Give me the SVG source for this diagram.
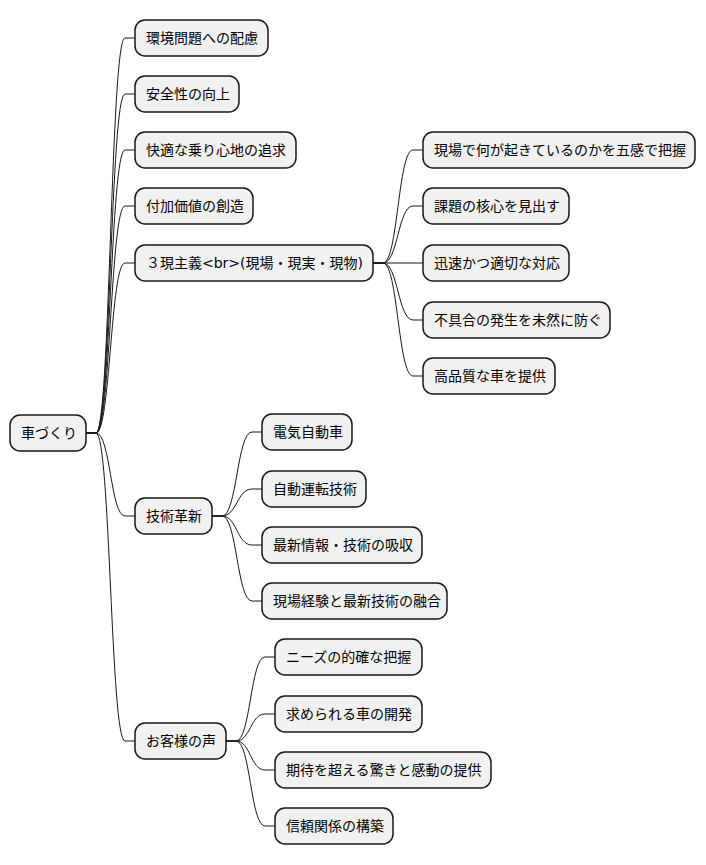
<svg xmlns="http://www.w3.org/2000/svg" width="706" height="865" viewBox="0 0 706 865">
<style>
.n rect{fill:#F1F1F1;stroke:#181818;stroke-width:1.5}
.n text{font-family:"DejaVu Sans","Noto Sans CJK JP",sans-serif;font-size:14px;fill:#000}
.c path{fill:none;stroke:#181818;stroke-width:1}
</style>
<rect width="706" height="865" fill="#FFFFFF"/>
<g class="c">
<path d="M86,433 L96,433 C110.5,433 110.5,38 125,38 L135,38"/>
<path d="M86,433 L96,433 C110.5,433 110.5,94 125,94 L135,94"/>
<path d="M86,433 L96,433 C110.5,433 110.5,150 125,150 L135,150"/>
<path d="M86,433 L96,433 C110.5,433 110.5,206 125,206 L135,206"/>
<path d="M86,433 L96,433 C110.5,433 110.5,263 125,263 L135,263"/>
<path d="M86,433 L96,433 C110.5,433 110.5,516 125,516 L135,516"/>
<path d="M86,433 L96,433 C110.5,433 110.5,741 125,741 L135,741"/>
<path d="M373,263 L383,263 C398,263 398,150 413,150 L423,150"/>
<path d="M373,263 L383,263 C398,263 398,206 413,206 L423,206"/>
<path d="M373,263 L423,263"/>
<path d="M373,263 L383,263 C398,263 398,320 413,320 L423,320"/>
<path d="M373,263 L383,263 C398,263 398,376 413,376 L423,376"/>
<path d="M212,516 L222,516 C237,516 237,432 252,432 L262,432"/>
<path d="M212,516 L222,516 C237,516 237,489 252,489 L262,489"/>
<path d="M212,516 L222,516 C237,516 237,545 252,545 L262,545"/>
<path d="M212,516 L222,516 C237,516 237,601 252,601 L262,601"/>
<path d="M226,741 L236,741 C250.5,741 250.5,657 265,657 L275,657"/>
<path d="M226,741 L236,741 C250.5,741 250.5,714 265,714 L275,714"/>
<path d="M226,741 L236,741 C250.5,741 250.5,770 265,770 L275,770"/>
<path d="M226,741 L236,741 C250.5,741 250.5,826 265,826 L275,826"/>
</g>
<g id="root" class="n"><rect x="10" y="415" width="76" height="36" rx="10"/><text x="21" y="438">車づくり</text></g>
<g id="n1" class="n"><rect x="135" y="20" width="133" height="36" rx="10"/><text x="146" y="43">環境問題への配慮</text></g>
<g id="n2" class="n"><rect x="135" y="76" width="104" height="36" rx="10"/><text x="146" y="99">安全性の向上</text></g>
<g id="n3" class="n"><rect x="135" y="132" width="161" height="36" rx="10"/><text x="146" y="155">快適な乗り心地の追求</text></g>
<g id="n4" class="n"><rect x="135" y="188" width="118" height="36" rx="10"/><text x="146" y="211">付加価値の創造</text></g>
<g id="n5" class="n"><rect x="135" y="245" width="238" height="36" rx="10"/><text x="146" y="268">３現主義&lt;br&gt;(現場・現実・現物)</text></g>
<g id="n5a" class="n"><rect x="423" y="132" width="272" height="36" rx="10"/><text x="434" y="155">現場で何が起きているのかを五感で把握</text></g>
<g id="n5b" class="n"><rect x="423" y="188" width="146" height="36" rx="10"/><text x="434" y="211">課題の核心を見出す</text></g>
<g id="n5c" class="n"><rect x="423" y="245" width="146" height="36" rx="10"/><text x="434" y="268">迅速かつ適切な対応</text></g>
<g id="n5d" class="n"><rect x="423" y="302" width="187" height="36" rx="10"/><text x="434" y="325">不具合の発生を未然に防ぐ</text></g>
<g id="n5e" class="n"><rect x="423" y="358" width="132" height="36" rx="10"/><text x="434" y="381">高品質な車を提供</text></g>
<g id="n6" class="n"><rect x="135" y="498" width="77" height="36" rx="10"/><text x="146" y="521">技術革新</text></g>
<g id="n6a" class="n"><rect x="262" y="414" width="90" height="36" rx="10"/><text x="273" y="437">電気自動車</text></g>
<g id="n6b" class="n"><rect x="262" y="471" width="104" height="36" rx="10"/><text x="273" y="494">自動運転技術</text></g>
<g id="n6c" class="n"><rect x="262" y="527" width="160" height="36" rx="10"/><text x="273" y="550">最新情報・技術の吸収</text></g>
<g id="n6d" class="n"><rect x="262" y="583" width="185" height="36" rx="10"/><text x="273" y="606">現場経験と最新技術の融合</text></g>
<g id="n7" class="n"><rect x="135" y="723" width="91" height="36" rx="10"/><text x="146" y="746">お客様の声</text></g>
<g id="n7a" class="n"><rect x="275" y="639" width="147" height="36" rx="10"/><text x="286" y="662">ニーズの的確な把握</text></g>
<g id="n7b" class="n"><rect x="275" y="696" width="147" height="36" rx="10"/><text x="286" y="719">求められる車の開発</text></g>
<g id="n7c" class="n"><rect x="275" y="752" width="216" height="36" rx="10"/><text x="286" y="775">期待を超える驚きと感動の提供</text></g>
<g id="n7d" class="n"><rect x="275" y="808" width="118" height="36" rx="10"/><text x="286" y="831">信頼関係の構築</text></g>
</svg>
